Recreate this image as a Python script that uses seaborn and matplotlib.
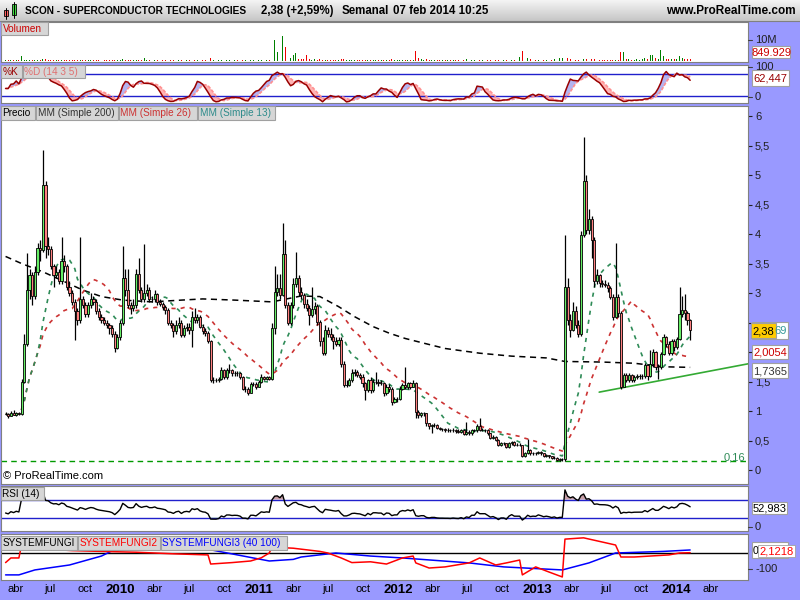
import numpy as np
import pandas as pd
import matplotlib
matplotlib.use("Agg")
import matplotlib.pyplot as plt
from matplotlib.patches import Rectangle
from matplotlib.colors import LinearSegmentedColormap
import seaborn as sns

# weekly candles of SCON (open = previous close)
last_week = "2014-02-07"

close = [0.95, 0.92, 0.97, 0.94, 0.97, 0.95, 1.50, 2.13, 3.05, 3.30,
         2.95, 3.35, 3.76, 3.73, 4.83, 3.80, 3.75, 3.45, 3.30, 3.35,
         3.20, 3.55, 3.45, 3.10, 3.00, 2.85, 2.70, 2.55, 2.90, 2.80,
         2.65, 2.80, 2.90, 2.85, 2.70, 2.60, 2.55, 2.50, 2.45, 2.40,
         2.30, 2.07, 2.25, 2.50, 3.25, 3.05, 2.80, 2.75, 2.80, 3.33,
         3.05, 2.90, 3.00, 3.05, 2.90, 2.90, 2.98, 2.85, 2.82, 2.77,
         2.71, 2.49, 2.46, 2.35, 2.46, 2.50, 2.29, 2.40, 2.43, 2.38,
         2.60, 2.54, 2.60, 2.43, 2.35, 2.32, 2.18, 1.53, 1.53, 1.52,
         1.55, 1.69, 1.58, 1.69, 1.69, 1.64, 1.65, 1.64, 1.58, 1.38,
         1.38, 1.31, 1.46, 1.46, 1.41, 1.49, 1.58, 1.55, 1.57, 1.55,
         2.40, 3.02, 3.08, 2.97, 3.66, 2.80, 2.49, 2.80, 3.16, 3.25,
         3.02, 2.96, 2.82, 2.74, 2.63, 2.73, 2.78, 2.51, 2.18, 1.98,
         2.37, 2.30, 2.25, 2.18, 2.14, 2.20, 1.80, 1.44, 1.44, 1.52,
         1.64, 1.66, 1.61, 1.58, 1.47, 1.36, 1.52, 1.36, 1.50, 1.50,
         1.47, 1.47, 1.30, 1.41, 1.38, 1.16, 1.20, 1.20, 1.38, 1.44,
         1.41, 1.47, 1.41, 1.47, 0.99, 0.93, 0.96, 0.96, 0.79, 0.74,
         0.76, 0.76, 0.71, 0.69, 0.69, 0.68, 0.68, 0.67, 0.68, 0.66,
         0.65, 0.67, 0.61, 0.65, 0.62, 0.67, 0.67, 0.75, 0.68, 0.68,
         0.68, 0.62, 0.55, 0.56, 0.51, 0.42, 0.45, 0.45, 0.39, 0.45,
         0.48, 0.42, 0.42, 0.42, 0.24, 0.28, 0.34, 0.28, 0.29, 0.28,
         0.31, 0.28, 0.24, 0.25, 0.23, 0.20, 0.21, 0.17, 0.18, 0.18,
         3.11, 2.55, 2.38, 2.70, 2.45, 2.30, 3.98, 4.90, 4.07, 4.25,
         3.90, 3.20, 3.30, 3.17, 3.15, 3.14, 3.08, 2.94, 2.60, 2.94,
         2.66, 1.41, 1.61, 1.53, 1.61, 1.53, 1.58, 1.59, 1.59, 1.59,
         1.78, 1.59, 1.80, 2.00, 1.75, 1.75, 1.97, 2.26, 2.14, 1.98,
         2.19, 2.08, 2.22, 2.64, 2.71, 2.66, 2.54, 2.38]

high = [0.98, 0.97, 1.00, 1.02, 0.99, 0.98, 1.55, 2.30, 3.68, 3.40,
        3.35, 3.45, 3.85, 3.90, 5.42, 4.90, 3.95, 3.80, 3.50, 3.45,
        3.40, 3.95, 3.65, 3.50, 3.20, 3.05, 2.90, 2.75, 3.95, 2.95,
        2.85, 2.85, 3.00, 2.95, 2.90, 2.75, 2.65, 2.60, 2.55, 2.50,
        2.45, 2.35, 2.30, 2.55, 3.80, 3.40, 3.40, 2.85, 2.90, 3.40,
        3.60, 3.10, 3.83, 3.15, 3.10, 2.95, 3.05, 3.00, 2.90, 2.85,
        2.80, 2.75, 2.55, 2.50, 2.55, 2.60, 2.55, 2.45, 2.50, 2.50,
        2.70, 2.75, 2.65, 2.62, 2.48, 2.40, 2.35, 2.20, 1.57, 1.56,
        1.58, 1.75, 1.72, 1.73, 1.80, 1.72, 1.68, 1.68, 1.66, 1.60,
        1.42, 1.40, 1.50, 1.50, 1.49, 1.52, 1.62, 1.60, 1.60, 1.59,
        2.50, 3.45, 3.33, 3.32, 4.18, 3.90, 2.85, 2.85, 3.25, 3.70,
        3.30, 3.10, 3.00, 2.90, 2.80, 3.10, 2.85, 2.82, 2.55, 2.25,
        2.45, 2.42, 2.40, 2.30, 2.25, 2.25, 2.25, 1.85, 1.52, 1.56,
        1.72, 1.72, 1.70, 1.65, 1.62, 1.50, 1.55, 1.58, 1.55, 1.66,
        1.55, 1.52, 1.50, 1.45, 1.45, 1.40, 1.24, 1.24, 1.42, 1.48,
        1.75, 1.50, 1.50, 1.52, 1.50, 1.02, 0.99, 0.99, 0.97, 0.80,
        0.78, 0.79, 0.78, 0.73, 0.72, 0.71, 0.72, 0.70, 0.71, 0.70,
        0.69, 0.70, 0.69, 0.82, 0.67, 0.69, 0.70, 0.78, 0.88, 0.71,
        0.70, 0.69, 0.63, 0.59, 0.58, 0.53, 0.47, 0.48, 0.46, 0.47,
        0.50, 0.49, 0.45, 0.45, 0.43, 0.30, 0.53, 0.35, 0.31, 0.31,
        0.33, 0.32, 0.29, 0.27, 0.26, 0.24, 0.23, 0.22, 0.20, 0.20,
        3.98, 3.25, 2.65, 2.85, 2.78, 2.55, 4.05, 5.65, 5.00, 4.42,
        4.30, 3.95, 3.40, 3.32, 3.22, 3.22, 3.18, 3.12, 2.98, 3.84,
        2.98, 2.70, 1.65, 1.64, 1.64, 1.63, 1.61, 1.62, 1.62, 1.62,
        1.82, 1.80, 2.03, 2.05, 2.02, 1.80, 2.00, 2.30, 2.28, 2.18,
        2.22, 2.22, 2.26, 3.11, 2.95, 2.98, 2.70, 2.56]

low = [0.93, 0.88, 0.91, 0.93, 0.92, 0.93, 0.94, 1.48, 2.10, 2.90,
       2.80, 2.90, 3.30, 3.55, 3.70, 3.60, 3.65, 3.40, 3.10, 3.25,
       3.15, 3.15, 3.35, 3.05, 2.95, 2.80, 2.20, 2.45, 2.50, 2.75,
       2.60, 2.60, 2.75, 2.80, 2.65, 2.55, 2.50, 2.45, 2.40, 2.30,
       2.25, 2.00, 2.05, 2.20, 2.45, 2.95, 2.75, 2.65, 2.70, 2.75,
       3.00, 2.85, 2.85, 2.95, 2.85, 2.85, 2.85, 2.80, 2.78, 2.72,
       2.65, 2.45, 2.40, 2.25, 2.30, 2.40, 2.25, 2.25, 2.35, 2.30,
       2.09, 2.50, 2.50, 2.40, 2.30, 2.28, 2.15, 1.50, 1.48, 1.49,
       1.50, 1.53, 1.55, 1.55, 1.65, 1.60, 1.60, 1.60, 1.55, 1.35,
       1.33, 1.27, 1.30, 1.42, 1.38, 1.40, 1.47, 1.52, 1.52, 1.52,
       1.53, 2.30, 2.95, 2.90, 2.95, 2.75, 2.45, 2.45, 2.75, 3.10,
       2.95, 2.90, 2.75, 2.70, 2.45, 2.60, 2.65, 2.45, 2.10, 1.95,
       1.95, 2.25, 2.20, 2.05, 2.10, 2.10, 1.75, 1.40, 1.40, 1.42,
       1.50, 1.60, 1.58, 1.55, 1.40, 1.19, 1.33, 1.30, 1.33, 1.45,
       1.43, 1.44, 1.26, 1.28, 1.33, 1.10, 1.14, 1.16, 1.18, 1.35,
       1.38, 1.38, 1.38, 1.40, 0.88, 0.88, 0.90, 0.92, 0.75, 0.70,
       0.62, 0.73, 0.69, 0.67, 0.66, 0.65, 0.65, 0.64, 0.65, 0.63,
       0.62, 0.63, 0.59, 0.60, 0.60, 0.60, 0.65, 0.65, 0.66, 0.66,
       0.65, 0.60, 0.53, 0.53, 0.49, 0.40, 0.40, 0.42, 0.37, 0.37,
       0.43, 0.40, 0.40, 0.40, 0.22, 0.22, 0.27, 0.26, 0.26, 0.26,
       0.27, 0.26, 0.22, 0.22, 0.21, 0.18, 0.18, 0.16, 0.16, 0.16,
       0.16, 2.45, 2.26, 2.35, 2.40, 2.25, 2.28, 3.95, 4.00, 4.00,
       3.60, 3.10, 3.15, 3.10, 3.10, 3.10, 3.02, 2.90, 2.55, 2.58,
       2.60, 1.38, 1.40, 1.50, 1.50, 1.50, 1.50, 1.55, 1.55, 1.55,
       1.56, 1.52, 1.57, 1.75, 1.70, 1.55, 1.72, 1.95, 2.08, 1.95,
       1.95, 2.02, 2.05, 2.20, 2.60, 2.55, 2.45, 2.20]

# volume in millions of shares
volume_m = [0.4, 0.3, 0.3, 0.4, 0.3, 0.4, 2.2, 0.6, 0.7, 0.5,
            0.5, 0.4, 0.6, 0.5, 1.0, 0.8, 0.5, 0.4, 0.4, 0.3,
            0.4, 0.6, 0.4, 0.3, 0.3, 0.4, 0.5, 0.3, 0.6, 0.3,
            0.3, 0.4, 0.3, 0.3, 0.3, 0.3, 0.2, 0.3, 0.3, 0.3,
            0.3, 0.5, 0.3, 0.4, 0.8, 0.5, 0.4, 0.3, 0.3, 0.6,
            0.4, 0.3, 1.5, 0.4, 0.3, 0.3, 0.3, 0.3, 0.3, 0.3,
            0.3, 0.3, 0.3, 0.3, 0.8, 0.3, 0.3, 0.3, 0.3, 0.3,
            0.4, 0.3, 0.3, 0.3, 0.3, 0.3, 0.5, 1.3, 0.6, 0.4,
            0.3, 0.6, 0.5, 0.4, 0.4, 0.3, 0.3, 0.5, 0.4, 0.6,
            0.4, 0.4, 0.4, 0.3, 0.4, 0.4, 0.3, 0.3, 0.4, 0.4,
            18.0, 10.0, 4.4, 2.0, 11.9, 6.8, 2.0, 1.2, 3.0, 3.6,
            1.0, 0.8, 0.8, 2.8, 1.0, 0.6, 0.8, 0.7, 0.8, 0.6,
            0.7, 0.5, 0.5, 0.5, 0.5, 0.6, 0.8, 1.0, 0.6, 0.5,
            0.6, 0.5, 0.5, 0.6, 0.6, 0.7, 0.5, 0.5, 0.5, 0.5,
            0.5, 0.5, 0.5, 0.6, 0.5, 0.8, 0.5, 0.5, 0.5, 0.5,
            0.6, 0.5, 0.5, 0.5, 4.9, 1.2, 0.8, 0.6, 0.8, 0.6,
            0.5, 0.5, 0.4, 0.5, 0.4, 0.4, 0.4, 0.4, 0.4, 0.4,
            0.5, 0.4, 0.5, 0.8, 0.4, 0.4, 0.4, 0.8, 0.6, 0.4,
            0.4, 0.5, 0.5, 0.4, 0.5, 0.5, 0.4, 0.4, 0.4, 0.4,
            0.4, 0.5, 0.5, 2.0, 5.0, 5.2, 1.5, 0.8, 0.6, 0.5,
            0.5, 0.6, 0.6, 0.5, 0.5, 0.6, 0.8, 0.8, 1.5, 1.5,
            6.8, 1.2, 0.8, 0.8, 0.6, 0.7, 8.0, 1.0, 1.0, 0.8,
            0.8, 0.8, 0.6, 0.5, 0.5, 0.5, 0.5, 0.5, 0.5, 0.6,
            0.5, 4.1, 4.4, 0.8, 1.0, 0.6, 0.7, 0.8, 0.7, 1.0,
            1.6, 1.0, 3.0, 3.0, 1.5, 1.0, 5.2, 2.5, 1.0, 0.8,
            0.8, 1.0, 1.0, 2.2, 1.4, 0.8, 0.8, 0.85]

# 200-week average as drawn (week index into the candles, value)
sma200_idx = [0, 6, 14, 29, 36, 44, 55, 66, 74, 86, 100, 111, 118, 125,
              131, 138, 144, 150, 157, 165, 178, 190, 203, 210, 224, 236, 247, 257]
sma200_val = [3.62, 3.50, 3.36, 3.05, 2.94, 2.88, 2.85, 2.88, 2.90, 2.88, 2.85, 2.95, 2.94, 2.77,
              2.60, 2.43, 2.32, 2.23, 2.15, 2.06, 1.98, 1.93, 1.90, 1.84, 1.83, 1.81, 1.75, 1.74]

# SYSTEMFUNGI2 (red) and SYSTEMFUNGI3 (blue), read at week indices
fungi2_idx = [0, 2, 5, 6, 15, 25, 36, 49, 63, 76, 77, 85, 92, 96, 99, 100, 108, 118, 121, 126,
              130, 137, 143, 149, 153, 154, 159, 165, 174, 178, 184, 188, 193, 194, 199, 204,
              209, 210, 217, 229, 231, 236, 249, 253, 257]
fungi2_val = [-60, -31, -31, 50, 25, 15, 10, 5, -5, -12, -69, -60, -50, -30, 0, 37, 30, 10, 0, -31,
              -60, -55, -69, -31, -19, -62, -94, -87, -62, -31, -75, -62, -44, -137, -87, -119,
              -150, 87, 95, 50, -25, -25, -12, 0, 2]
fungi3_idx = [0, 5, 11, 24, 36, 40, 55, 74, 77, 93, 99, 108, 111, 124, 137, 149, 174, 187,
              209, 219, 229, 247, 257]
fungi3_val = [-137, -137, -106, -75, -19, 14, 35, 30, 20, -31, -50, -40, -25, 0, -19, -31, -62, -87,
              -106, -62, 0, 10, 19]

# RSI averages carried in from before the window (the chart opens near 40)
rsi_seed_gain = 0.02
rsi_seed_loss = 0.03

trend_dates = ["2013-06-13", "2014-07-09"]
trend_prices = [1.32, 1.80]
support_level = 0.16

quarter_ticks = pd.date_range("2009-04-01", "2014-04-01", freq="QS-JAN")
month_abbr = {4: "abr", 7: "jul", 10: "oct"}
price_ticks = np.arange(0, 6.01, 0.5)
hidden_ticks = [2.0, 2.5]  # covered by the last-value boxes

# ---- derived series ----
dates = pd.date_range(end=last_week, periods=len(close), freq="W-FRI")
df = pd.DataFrame({"date": dates, "close": close, "high": high, "low": low, "vol": volume_m})
df["open"] = df["close"].shift(1).fillna(df["close"])
df["sma13"] = df["close"].rolling(13, min_periods=1).mean()
df["sma26"] = df["close"].rolling(26, min_periods=1).mean()

ll = df["low"].rolling(14, min_periods=1).min()
hh = df["high"].rolling(14, min_periods=1).max()
raw_k = 100 * (df["close"] - ll) / (hh - ll)
df["k"] = raw_k.rolling(3, min_periods=1).mean()
df["d"] = df["k"].rolling(5, min_periods=1).mean()

# Wilder RSI(14)
g, l = rsi_seed_gain, rsi_seed_loss
rsi = []
for dlt in df["close"].diff().fillna(0):
    g = (g * 13 + max(dlt, 0)) / 14
    l = (l * 13 + max(-dlt, 0)) / 14
    rsi.append(100 - 100 / (1 + g / l))
df["rsi"] = rsi

up = df["close"] >= df["open"]

# ---- figure ----
sns.set_style("white")
plt.rcParams["font.family"] = ["Liberation Sans", "DejaVu Sans"]
LAV = "#9999ff"
fig = plt.figure(figsize=(8, 6), dpi=100, facecolor=LAV)
xlim = (pd.Timestamp("2009-02-22"), pd.Timestamp("2014-07-09"))


def pane(top, bottom):
    ax = fig.add_axes([1 / 800, 1 - bottom / 600, 747 / 800, (bottom - top) / 600])
    ax.set_facecolor("white")
    ax.set_xlim(*xlim)
    ax.set_xticks([])
    ax.set_yticks([])
    for s in ax.spines.values():
        s.set_color("#808080")
        s.set_linewidth(0.8)
    return ax


# volume
ax_v = pane(22, 62)
ax_v.bar(df["date"], df["vol"], width=2.2, color=np.where(up, "#008000", "#ee0000"), lw=0)
ax_v.set_ylim(-0.48, 18.6)

# stochastic
ax_s = pane(65, 103)
ax_s.fill_between(df["date"], df["k"], df["d"], where=df["k"] >= df["d"], interpolate=True,
                  color="#b4b4f0", lw=0)
ax_s.fill_between(df["date"], df["k"], df["d"], where=df["k"] < df["d"], interpolate=True,
                  color="#ffb4b4", lw=0)
ax_s.axhline(80, color="#2020cc", lw=1)
ax_s.axhline(20, color="#2020cc", lw=1)
sns.lineplot(x=df["date"], y=df["d"], ax=ax_s, color="#ff9090", lw=1.2, linestyle=(0, (2, 1)))
sns.lineplot(x=df["date"], y=df["k"], ax=ax_s, color="#990000", lw=1.1)
ax_s.set_ylim(-0.2, 104.9)

# price
ax_p = pane(106, 484)
ax_p.axhline(support_level, color="#009900", lw=1, linestyle=(0, (4, 3)))
sns.lineplot(x=df["date"].iloc[sma200_idx].values, y=sma200_val, ax=ax_p, color="black",
             lw=1.1, linestyle=(0, (4, 3)))
sns.lineplot(x=df["date"], y=df["sma26"], ax=ax_p, color="#cc3333", lw=1.2, linestyle=(0, (2.5, 3)))
sns.lineplot(x=df["date"], y=df["sma13"], ax=ax_p, color="#2e8b57", lw=1.2, linestyle=(0, (2.5, 3)))
sns.lineplot(x=pd.to_datetime(trend_dates), y=trend_prices, ax=ax_p, color="#33aa33", lw=1.2)
ax_p.vlines(df["date"], df["low"], df["high"], color="black", lw=0.9, zorder=3)
ax_p.bar(df["date"], df["close"] - df["open"], bottom=df["open"], width=5.5,
         color=np.where(up, "#66ee66", "#ff8080"), edgecolor="black", lw=0.6, zorder=4)
ax_p.set_ylim(-0.237, 6.17)
ax_p.yaxis.tick_right()
ax_p.set_yticks(price_ticks)
ax_p.set_yticklabels(["" if t in hidden_ticks else f"{t:g}".replace(".", ",") for t in price_ticks])
ax_p.tick_params(axis="y", direction="out", length=3, pad=2, labelsize=8, colors="#202020")

# RSI
ax_r = pane(486, 531)
ax_r.fill_between(df["date"], df["rsi"], 70, where=df["rsi"] > 70, interpolate=True,
                  color="#c8a0a8", lw=0)
ax_r.fill_between(df["date"], df["rsi"], 30, where=df["rsi"] < 30, interpolate=True,
                  color="#b0d8b0", lw=0)
ax_r.axhline(70, color="#2020cc", lw=1)
ax_r.axhline(30, color="#2020cc", lw=1)
sns.lineplot(x=df["date"], y=df["rsi"], ax=ax_r, color="black", lw=1)
ax_r.set_ylim(0, 100)

# SYSTEMFUNGI
ax_f = pane(534, 580)
ax_f.axhline(0, color="black", lw=1)
sns.lineplot(x=df["date"].iloc[fungi3_idx].values, y=fungi3_val, ax=ax_f, color="#0000ff", lw=1.1)
sns.lineplot(x=df["date"].iloc[fungi2_idx].values, y=fungi2_val, ax=ax_f, color="#ff0000", lw=1.1)
ax_f.set_ylim(-169, 119)
ax_f.set_xticks(quarter_ticks)
ax_f.set_xticklabels([str(d.year) if d.month == 1 else month_abbr[d.month] for d in quarter_ticks])
ax_f.tick_params(axis="x", length=0, pad=3, labelsize=8, colors="black")
for lab, d in zip(ax_f.get_xticklabels(), quarter_ticks):
    if d.month == 1:
        lab.set_fontweight("bold")
        lab.set_fontsize(9.5)

for ax in (ax_v, ax_s, ax_p, ax_r, ax_f):
    ax.set_xlim(*xlim)
    ax.set_xlabel("")
    ax.set_ylabel("")

# ---- overlay in pixel coordinates: title bar, pane labels, value boxes ----
ov = fig.add_axes([0, 0, 1, 1], zorder=10)
ov.patch.set_alpha(0)
grad = np.linspace(0, 1, 40)[:, None]
ov.imshow(grad, extent=[0, 800, 21, 0], aspect="auto",
          cmap=LinearSegmentedColormap.from_list("bar", ["#f4f4f4", "#c6c6c6"]), zorder=0)
ov.set_xlim(0, 800)
ov.set_ylim(600, 0)
ov.axis("off")
ov.plot([0, 800], [21, 21], color="#808080", lw=0.8)

# small candle icon
ov.plot([5.5, 5.5], [8, 19], color="black", lw=0.7)
ov.add_patch(Rectangle((3.5, 10), 4, 6, fc="#ff6060", ec="black", lw=0.6))
ov.plot([13.5, 13.5], [2, 18], color="black", lw=0.7)
ov.add_patch(Rectangle((11.5, 4), 4, 11, fc="#40dd40", ec="black", lw=0.6))

title_kw = dict(fontweight="bold", va="center", color="black")
ov.text(25, 11, "SCON - SUPERCONDUCTOR TECHNOLOGIES", fontsize=7.3, **title_kw)
ov.text(261, 11, "2,38 (+2,59%)", fontsize=8.3, **title_kw)
ov.text(342, 11, "Semanal", fontsize=8.3, **title_kw)
ov.text(393, 11, "07 feb 2014 10:25", fontsize=8.3, **title_kw)
ov.text(796, 11, "www.ProRealTime.com", ha="right", fontsize=8.5, **title_kw)


def label_box(x0, y0, x1, y1, text, color):
    ov.add_patch(Rectangle((x0, y0), x1 - x0, y1 - y0, fc="#d6d6d6", ec="#a0a0a0", lw=0.8))
    ov.text(x0 + 1.5, (y0 + y1) / 2 + 0.5, text, color=color, fontsize=7.2, va="center", ha="left")


label_box(1, 22, 48, 35, "Volumen", "#cc0000")
label_box(1, 65, 22, 78, "%K", "#990000")
label_box(23, 65, 85, 78, "%D (14 3 5)", "#e07070")
label_box(1, 106, 35, 120, "Precio", "black")
label_box(36, 106, 118, 120, "MM (Simple 200)", "#333333")
label_box(119, 106, 197, 120, "MM (Simple 26)", "#cc3333")
label_box(198, 106, 275, 120, "MM (Simple 13)", "#2e8b8b")
label_box(1, 487, 44, 500, "RSI (14)", "black")
label_box(1, 536, 77, 550, "SYSTEMFUNGI", "black")
label_box(78, 536, 160, 550, "SYSTEMFUNGI2", "#ff0000")
label_box(161, 536, 287, 550, "SYSTEMFUNGI3 (40 100)", "#0000ff")


def value_box(x0, y0, x1, y1, text, color, fc="white", ha="center"):
    ov.add_patch(Rectangle((x0, y0), x1 - x0, y1 - y0, fc=fc, ec="#a0a0a0", lw=0.8))
    tx = (x0 + x1) / 2 if ha == "center" else x0 + 2
    ov.text(tx, (y0 + y1) / 2 + 0.5, text, color=color, fontsize=8, va="center", ha=ha)


def axis_text(y, text):
    ov.plot([748, 752], [y, y], color="#404040", lw=0.8)
    ov.text(755, y, text, fontsize=8, va="center", ha="left", color="#202020")


axis_text(40, "10M")
value_box(752, 46, 790, 58, "849.929", "#cc0000")
axis_text(67, "100")
value_box(752, 70, 789, 86, "62,447", "#990000")
axis_text(97, "0")
# SMA13 value sits behind the yellow last-price box, only its tail shows
ov.add_patch(Rectangle((752, 322), 36, 17, fc="white", ec="#a0a0a0", lw=0.8))
ov.text(787, 331, "69", fontsize=8, va="center", ha="right", color="#339999")
value_box(751, 323, 776, 338, "2,38", "black", fc="#ffcc00")
value_box(752, 345, 788, 359, "2,0054", "#cc0000")
value_box(752, 363, 788, 378, "1,7365", "#333333")
ov.text(745, 457, "0,16", fontsize=8, ha="right", va="center", color="#2e8b57")
ov.text(3, 476, "© ProRealTime.com", fontsize=8, ha="left", va="center", color="black")
value_box(752, 502, 787, 514, "52,983", "black")
axis_text(527, "0")
ov.add_patch(Rectangle((752, 542), 36, 16, fc="white", ec="#a0a0a0", lw=0.8))
ov.text(752.5, 551, "0", fontsize=7.5, va="center", ha="left", color="black")
ov.text(759.5, 551, "2,1218", fontsize=8, va="center", ha="left", color="#ff0000",
        bbox=dict(boxstyle="square,pad=0.1", fc="white", ec="#a0a0a0", lw=0.6))
axis_text(569, "-100")

fig.savefig("out.png", dpi=100, facecolor=LAV)
